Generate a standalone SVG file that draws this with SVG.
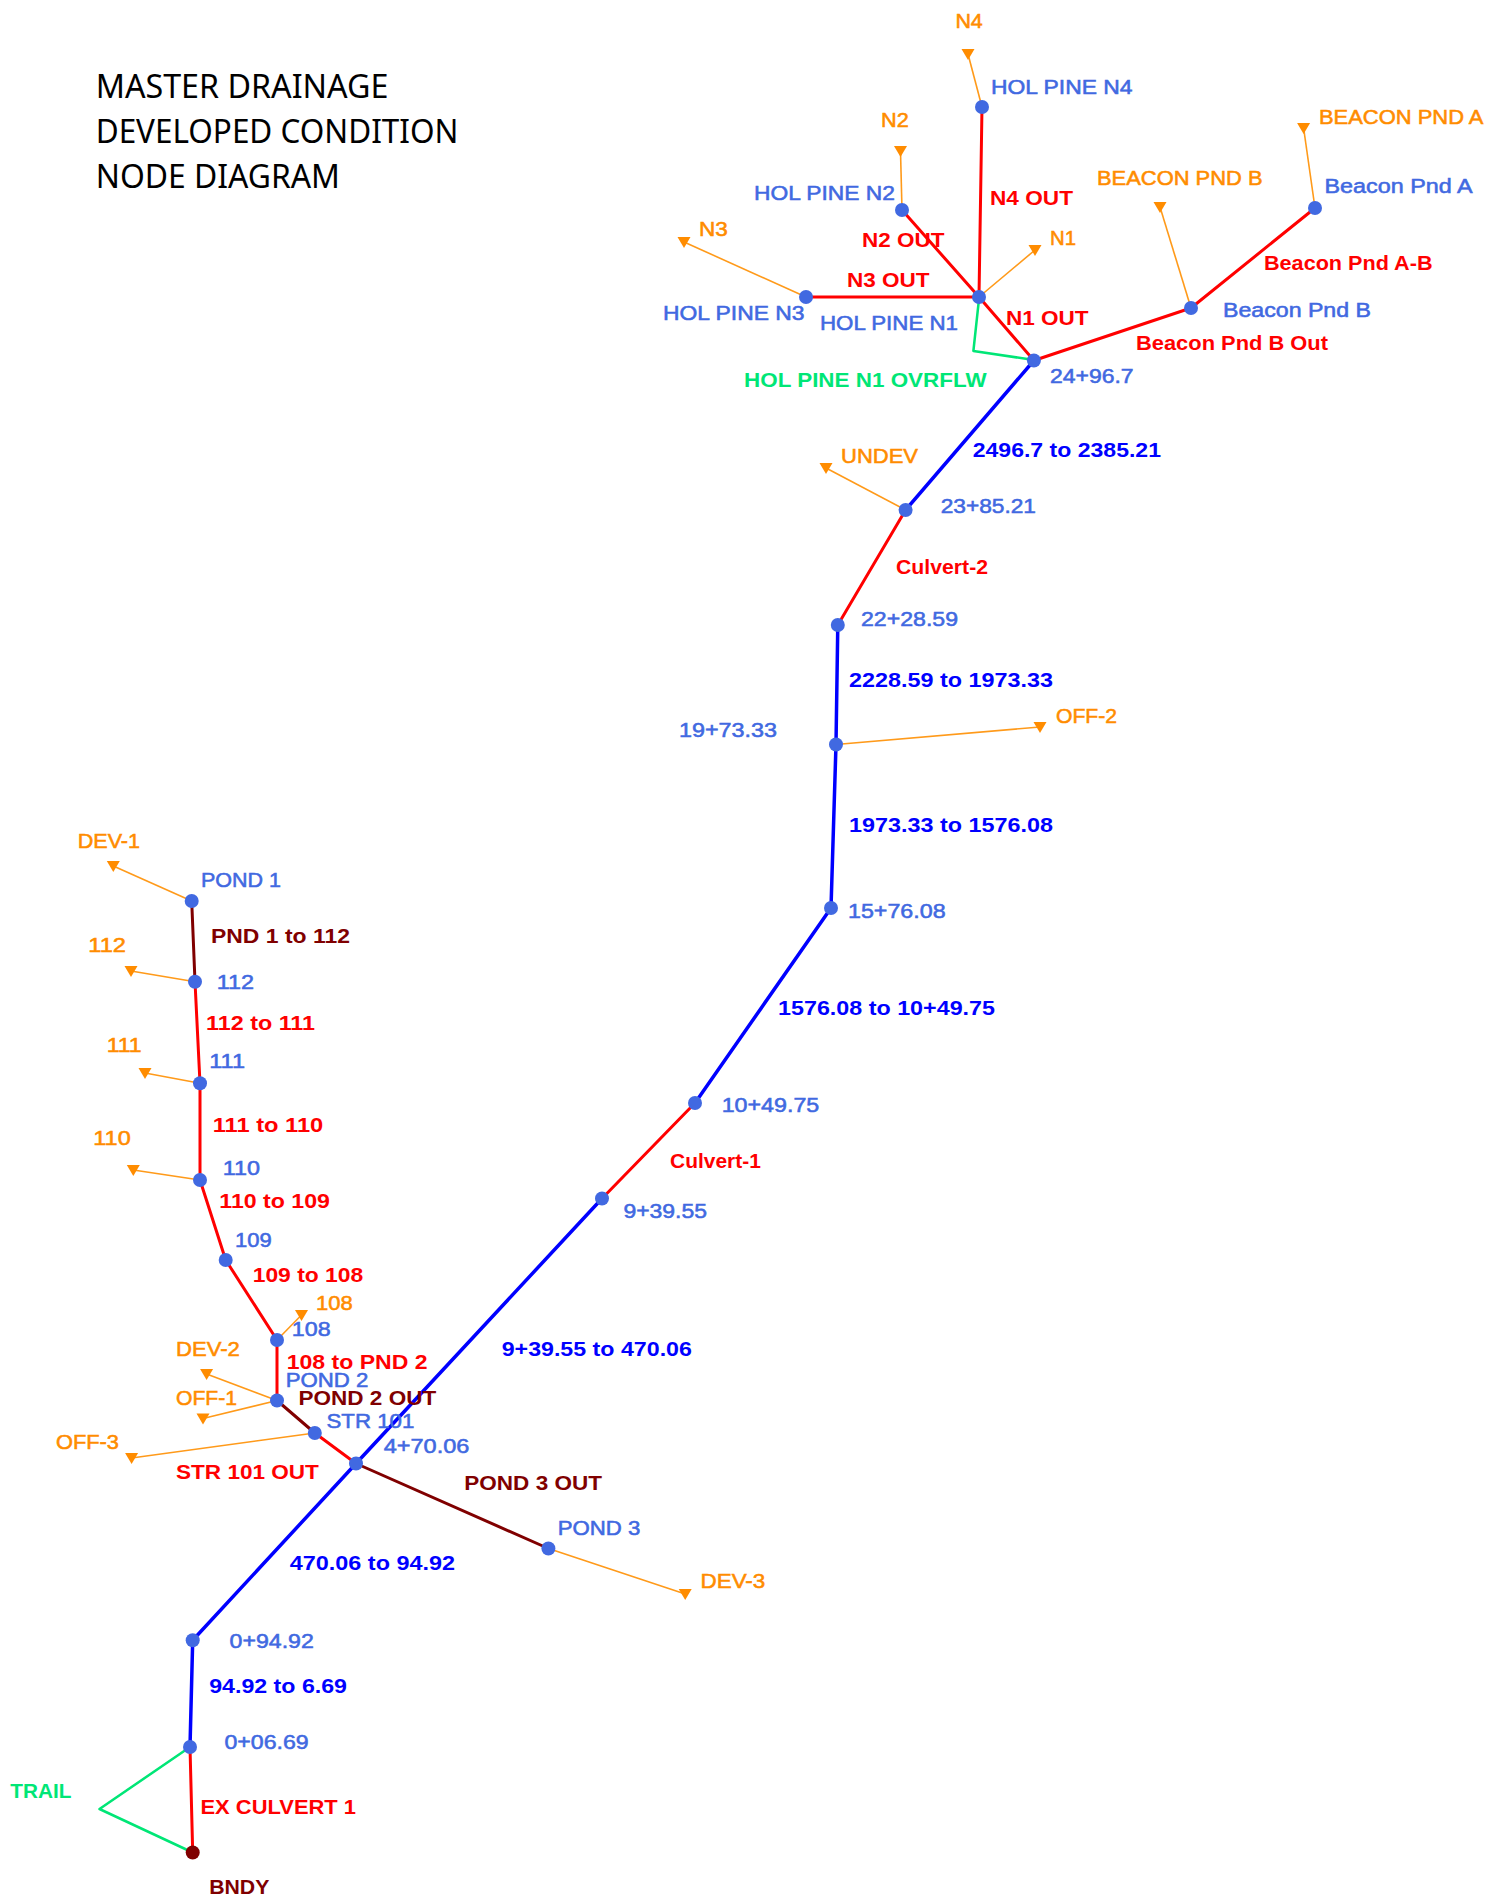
<svg xmlns="http://www.w3.org/2000/svg" width="1500" height="1898" viewBox="0 0 1500 1898">
<style>
text{font-family:"Liberation Sans",Arial,sans-serif;font-size:20.5px}
.title{font-family:"Noto Sans","Liberation Sans",sans-serif;font-size:32.5px;fill:#000}
.nl{fill:#4169E1;stroke:#4169E1;stroke-width:0.55}
.sl{fill:#FF8C00;stroke:#FF8C00;stroke-width:0.55}
.lb{fill:#0000FF;font-weight:bold}
.lr{fill:#FF0000;font-weight:bold}
.ld{fill:#800000;font-weight:bold}
.lg{fill:#00E676;font-weight:bold}
.reach{stroke:#0000FF;stroke-width:3.5;fill:none;stroke-linecap:round}
.red{stroke:#FF0000;stroke-width:3;fill:none;stroke-linecap:round}
.dred{stroke:#800000;stroke-width:3;fill:none;stroke-linecap:round}
.grn{stroke:#00E676;stroke-width:2.5;fill:none;stroke-linejoin:round}
.sub{stroke:#FF9A1A;stroke-width:1.6;fill:none}
.jn{fill:#4169E1}
</style>
<defs>
<path id="tri" d="M-6.5,-5 L6.5,-5 L0,6 Z" fill="#FF8C00"/>
</defs>

<g id="title">
<text class="title" x="95.7" y="98" textLength="292.7" lengthAdjust="spacingAndGlyphs">MASTER DRAINAGE</text>
<text class="title" x="95.7" y="143.3" textLength="362.7" lengthAdjust="spacingAndGlyphs">DEVELOPED CONDITION</text>
<text class="title" x="95.7" y="188.3" textLength="244.3" lengthAdjust="spacingAndGlyphs">NODE DIAGRAM</text>
</g>

<g id="connectors">
<line class="sub" x1="982" y1="107" x2="968" y2="54"/>
<line class="sub" x1="902" y1="210" x2="900.5" y2="151"/>
<line class="sub" x1="806" y1="297" x2="684" y2="242"/>
<line class="sub" x1="979" y1="297" x2="1035" y2="250"/>
<line class="sub" x1="1315" y1="208" x2="1303.6" y2="128"/>
<line class="sub" x1="1191" y1="308" x2="1160" y2="207"/>
<line class="sub" x1="905.6" y1="510" x2="826" y2="468"/>
<line class="sub" x1="836" y1="744.5" x2="1040" y2="727"/>
<line class="sub" x1="191.7" y1="901" x2="113.3" y2="866"/>
<line class="sub" x1="195" y1="981.7" x2="131" y2="971"/>
<line class="sub" x1="200" y1="1083.3" x2="145" y2="1073"/>
<line class="sub" x1="200" y1="1180" x2="133.3" y2="1170"/>
<line class="sub" x1="277" y1="1340" x2="301.5" y2="1315"/>
<line class="sub" x1="277" y1="1400.5" x2="206.6" y2="1374"/>
<line class="sub" x1="277" y1="1400.5" x2="203" y2="1418.5"/>
<line class="sub" x1="314.8" y1="1433" x2="131.6" y2="1458"/>
<line class="sub" x1="548.4" y1="1548.5" x2="685.2" y2="1594"/>
<line class="red" x1="982" y1="107" x2="979" y2="297"/>
<line class="red" x1="902" y1="210" x2="979" y2="297"/>
<line class="red" x1="806" y1="297" x2="979" y2="297"/>
<line class="red" x1="979" y1="297" x2="1033.9" y2="360.5"/>
<line class="red" x1="1315" y1="208" x2="1191" y2="308"/>
<line class="red" x1="1191" y1="308" x2="1033.9" y2="360.5"/>
<polyline class="grn" points="979,299 973.4,351 1033.9,360"/>
<line class="reach" x1="1033.9" y1="360.5" x2="905.6" y2="510"/>
<line class="red" x1="905.6" y1="510" x2="837.8" y2="625"/>
<polyline class="reach" points="837.8,625 836,744.5 831,908"/>
<line class="reach" x1="831" y1="908" x2="695" y2="1103"/>
<line class="red" x1="695" y1="1103" x2="602" y2="1198.5"/>
<line class="reach" x1="602" y1="1198.5" x2="356" y2="1463.5"/>
<line class="reach" x1="356" y1="1463.5" x2="192.7" y2="1640.3"/>
<line class="reach" x1="192.7" y1="1640.3" x2="190" y2="1747"/>
<line class="red" x1="190" y1="1747" x2="192.7" y2="1852.5"/>
<polyline class="grn" points="190,1747 99.5,1809 192.7,1852.5"/>
<line class="dred" x1="191.7" y1="901" x2="195" y2="981.7"/>
<line class="red" x1="195" y1="981.7" x2="200" y2="1083.3"/>
<line class="red" x1="200" y1="1083.3" x2="200" y2="1180"/>
<line class="red" x1="200" y1="1180" x2="225.7" y2="1260"/>
<line class="red" x1="225.7" y1="1260" x2="277" y2="1340"/>
<line class="red" x1="277" y1="1340" x2="277" y2="1400.5"/>
<line class="dred" x1="277" y1="1400.5" x2="314.8" y2="1433"/>
<line class="red" x1="314.8" y1="1433" x2="356" y2="1463.5"/>
<line class="dred" x1="548.4" y1="1548.5" x2="356" y2="1463.5"/>
</g>

<g id="link-labels">
<text class="lr" x="990" y="205" textLength="83" lengthAdjust="spacingAndGlyphs">N4 OUT</text>
<text class="lr" x="862" y="246.7" textLength="82.4" lengthAdjust="spacingAndGlyphs">N2 OUT</text>
<text class="lr" x="847" y="286.7" textLength="82.6" lengthAdjust="spacingAndGlyphs">N3 OUT</text>
<text class="lr" x="1006" y="325" textLength="82.6" lengthAdjust="spacingAndGlyphs">N1 OUT</text>
<text class="lr" x="1264" y="270" textLength="168.5" lengthAdjust="spacingAndGlyphs">Beacon Pnd A-B</text>
<text class="lr" x="1136" y="350" textLength="192" lengthAdjust="spacingAndGlyphs">Beacon Pnd B Out</text>
<text class="lg" x="744" y="386.7" textLength="242.6" lengthAdjust="spacingAndGlyphs">HOL PINE N1 OVRFLW</text>
<text class="lb" x="972.7" y="456.7" textLength="188.3" lengthAdjust="spacingAndGlyphs">2496.7 to 2385.21</text>
<text class="lr" x="896" y="574" textLength="92" lengthAdjust="spacingAndGlyphs">Culvert-2</text>
<text class="lb" x="849" y="687.3" textLength="204" lengthAdjust="spacingAndGlyphs">2228.59 to 1973.33</text>
<text class="lb" x="849" y="832.3" textLength="204" lengthAdjust="spacingAndGlyphs">1973.33 to 1576.08</text>
<text class="lb" x="778" y="1015" textLength="217" lengthAdjust="spacingAndGlyphs">1576.08 to 10+49.75</text>
<text class="lr" x="670" y="1168" textLength="90.8" lengthAdjust="spacingAndGlyphs">Culvert-1</text>
<text class="lb" x="501.7" y="1356" textLength="190.2" lengthAdjust="spacingAndGlyphs">9+39.55 to 470.06</text>
<text class="ld" x="211" y="943.3" textLength="139" lengthAdjust="spacingAndGlyphs">PND 1 to 112</text>
<text class="lr" x="206" y="1030" textLength="109" lengthAdjust="spacingAndGlyphs">112 to 111</text>
<text class="lr" x="212.7" y="1131.7" textLength="110.6" lengthAdjust="spacingAndGlyphs">111 to 110</text>
<text class="lr" x="219.3" y="1208.3" textLength="110.7" lengthAdjust="spacingAndGlyphs">110 to 109</text>
<text class="lr" x="252.7" y="1281.7" textLength="110.6" lengthAdjust="spacingAndGlyphs">109 to 108</text>
<text class="lr" x="286.7" y="1368.6" textLength="140.9" lengthAdjust="spacingAndGlyphs">108 to PND 2</text>
<text class="ld" x="298.5" y="1404.9" textLength="137.7" lengthAdjust="spacingAndGlyphs">POND 2 OUT</text>
<text class="lr" x="176" y="1478.5" textLength="142.9" lengthAdjust="spacingAndGlyphs">STR 101 OUT</text>
<text class="ld" x="464.3" y="1490" textLength="137.7" lengthAdjust="spacingAndGlyphs">POND 3 OUT</text>
<text class="lb" x="289.8" y="1570" textLength="165.2" lengthAdjust="spacingAndGlyphs">470.06 to 94.92</text>
<text class="lb" x="209.2" y="1692.8" textLength="137.8" lengthAdjust="spacingAndGlyphs">94.92 to 6.69</text>
<text class="lr" x="200.5" y="1814" textLength="155.5" lengthAdjust="spacingAndGlyphs">EX CULVERT 1</text>
<text class="lg" x="10.2" y="1797.7" textLength="61.2" lengthAdjust="spacingAndGlyphs">TRAIL</text>
</g>

<g id="sb-N4"><use href="#tri" x="968" y="54"/><text class="sl" x="955.4" y="28.3" textLength="27.4" lengthAdjust="spacingAndGlyphs">N4</text></g>
<g id="sb-N2"><use href="#tri" x="900.5" y="151"/><text class="sl" x="881" y="126.7" textLength="27.7" lengthAdjust="spacingAndGlyphs">N2</text></g>
<g id="sb-N3"><use href="#tri" x="684" y="242"/><text class="sl" x="699" y="236" textLength="28.8" lengthAdjust="spacingAndGlyphs">N3</text></g>
<g id="sb-N1"><use href="#tri" x="1035" y="250"/><text class="sl" x="1050" y="245" textLength="26" lengthAdjust="spacingAndGlyphs">N1</text></g>
<g id="sb-BeaconA"><use href="#tri" x="1303.6" y="128"/><text class="sl" x="1319" y="124" textLength="164.5" lengthAdjust="spacingAndGlyphs">BEACON PND A</text></g>
<g id="sb-BeaconB"><use href="#tri" x="1160" y="207"/><text class="sl" x="1097" y="185" textLength="165.5" lengthAdjust="spacingAndGlyphs">BEACON PND B</text></g>
<g id="sb-UNDEV"><use href="#tri" x="826" y="468"/><text class="sl" x="841" y="462.7" textLength="77" lengthAdjust="spacingAndGlyphs">UNDEV</text></g>
<g id="sb-OFF2"><use href="#tri" x="1040" y="727"/><text class="sl" x="1056" y="722.7" textLength="61" lengthAdjust="spacingAndGlyphs">OFF-2</text></g>
<g id="sb-DEV1"><use href="#tri" x="113.3" y="866"/><text class="sl" x="77.7" y="848.3" textLength="62.3" lengthAdjust="spacingAndGlyphs">DEV-1</text></g>
<g id="sb-112"><use href="#tri" x="131" y="971"/><text class="sl" x="88.3" y="951.7" textLength="37.7" lengthAdjust="spacingAndGlyphs">112</text></g>
<g id="sb-111"><use href="#tri" x="145" y="1073"/><text class="sl" x="106.7" y="1051.7" textLength="35" lengthAdjust="spacingAndGlyphs">111</text></g>
<g id="sb-110"><use href="#tri" x="133.3" y="1170"/><text class="sl" x="93.3" y="1145" textLength="37.4" lengthAdjust="spacingAndGlyphs">110</text></g>
<g id="sb-108"><use href="#tri" x="301.5" y="1315"/><text class="sl" x="316" y="1310" textLength="36.7" lengthAdjust="spacingAndGlyphs">108</text></g>
<g id="sb-DEV2"><use href="#tri" x="206.6" y="1374"/><text class="sl" x="176" y="1356.4" textLength="63.8" lengthAdjust="spacingAndGlyphs">DEV-2</text></g>
<g id="sb-OFF1"><use href="#tri" x="203" y="1418.5"/><text class="sl" x="176" y="1404.9" textLength="61" lengthAdjust="spacingAndGlyphs">OFF-1</text></g>
<g id="sb-OFF3"><use href="#tri" x="131.6" y="1458"/><text class="sl" x="56" y="1448.7" textLength="63" lengthAdjust="spacingAndGlyphs">OFF-3</text></g>
<g id="sb-DEV3"><use href="#tri" x="685.2" y="1594"/><text class="sl" x="700.5" y="1588" textLength="64.8" lengthAdjust="spacingAndGlyphs">DEV-3</text></g>

<g id="n-HOLPINEN4"><circle class="jn" cx="982" cy="107" r="7"/><text class="nl" x="991" y="94" textLength="141.5" lengthAdjust="spacingAndGlyphs">HOL PINE N4</text></g>
<g id="n-HOLPINEN2"><circle class="jn" cx="902" cy="210" r="7"/><text class="nl" x="754" y="200" textLength="141" lengthAdjust="spacingAndGlyphs">HOL PINE N2</text></g>
<g id="n-HOLPINEN3"><circle class="jn" cx="806" cy="297" r="7"/><text class="nl" x="663" y="320" textLength="141.5" lengthAdjust="spacingAndGlyphs">HOL PINE N3</text></g>
<g id="n-HOLPINEN1"><circle class="jn" cx="979" cy="297" r="7"/><text class="nl" x="820" y="330" textLength="138" lengthAdjust="spacingAndGlyphs">HOL PINE N1</text></g>
<g id="n-BeaconA"><circle class="jn" cx="1315" cy="208" r="7"/><text class="nl" x="1324.5" y="193" textLength="148" lengthAdjust="spacingAndGlyphs">Beacon Pnd A</text></g>
<g id="n-BeaconB"><circle class="jn" cx="1191" cy="308" r="7"/><text class="nl" x="1223" y="316.7" textLength="148" lengthAdjust="spacingAndGlyphs">Beacon Pnd B</text></g>
<g id="n-2496"><circle class="jn" cx="1033.9" cy="360.5" r="7"/><text class="nl" x="1050" y="383" textLength="83.6" lengthAdjust="spacingAndGlyphs">24+96.7</text></g>
<g id="n-2385"><circle class="jn" cx="905.6" cy="510" r="7"/><text class="nl" x="940.7" y="513" textLength="95.3" lengthAdjust="spacingAndGlyphs">23+85.21</text></g>
<g id="n-2228"><circle class="jn" cx="837.8" cy="625" r="7"/><text class="nl" x="861" y="626" textLength="97" lengthAdjust="spacingAndGlyphs">22+28.59</text></g>
<g id="n-1973"><circle class="jn" cx="836" cy="744.5" r="7"/><text class="nl" x="679" y="737" textLength="98" lengthAdjust="spacingAndGlyphs">19+73.33</text></g>
<g id="n-1576"><circle class="jn" cx="831" cy="908" r="7"/><text class="nl" x="848" y="918" textLength="97.6" lengthAdjust="spacingAndGlyphs">15+76.08</text></g>
<g id="n-1049"><circle class="jn" cx="695" cy="1103" r="7"/><text class="nl" x="721.7" y="1111.7" textLength="97.6" lengthAdjust="spacingAndGlyphs">10+49.75</text></g>
<g id="n-939"><circle class="jn" cx="602" cy="1198.5" r="7"/><text class="nl" x="623.4" y="1218" textLength="83.6" lengthAdjust="spacingAndGlyphs">9+39.55</text></g>
<g id="n-POND1"><circle class="jn" cx="191.7" cy="901" r="7"/><text class="nl" x="201" y="886.7" textLength="80" lengthAdjust="spacingAndGlyphs">POND 1</text></g>
<g id="n-112"><circle class="jn" cx="195" cy="981.7" r="7"/><text class="nl" x="216.7" y="989" textLength="37.3" lengthAdjust="spacingAndGlyphs">112</text></g>
<g id="n-111"><circle class="jn" cx="200" cy="1083.3" r="7"/><text class="nl" x="209.3" y="1068.3" textLength="35.7" lengthAdjust="spacingAndGlyphs">111</text></g>
<g id="n-110"><circle class="jn" cx="200" cy="1180" r="7"/><text class="nl" x="222.7" y="1175" textLength="37.3" lengthAdjust="spacingAndGlyphs">110</text></g>
<g id="n-109"><circle class="jn" cx="225.7" cy="1260" r="7"/><text class="nl" x="235" y="1246.7" textLength="36.7" lengthAdjust="spacingAndGlyphs">109</text></g>
<g id="n-108"><circle class="jn" cx="277" cy="1340" r="7"/><text class="nl" x="291.8" y="1336.2" textLength="38.8" lengthAdjust="spacingAndGlyphs">108</text></g>
<g id="n-POND2"><circle class="jn" cx="277" cy="1400.5" r="7"/><text class="nl" x="285.7" y="1387" textLength="82.7" lengthAdjust="spacingAndGlyphs">POND 2</text></g>
<g id="n-STR101"><circle class="jn" cx="314.8" cy="1433" r="7"/><text class="nl" x="326.5" y="1427.8" textLength="87.8" lengthAdjust="spacingAndGlyphs">STR 101</text></g>
<g id="n-470"><circle class="jn" cx="356" cy="1463.5" r="7"/><text class="nl" x="383.7" y="1453.3" textLength="85.7" lengthAdjust="spacingAndGlyphs">4+70.06</text></g>
<g id="n-POND3"><circle class="jn" cx="548.4" cy="1548.5" r="7"/><text class="nl" x="557.7" y="1534.6" textLength="82.6" lengthAdjust="spacingAndGlyphs">POND 3</text></g>
<g id="n-094"><circle class="jn" cx="192.7" cy="1640.3" r="7"/><text class="nl" x="229.6" y="1647.8" textLength="84.2" lengthAdjust="spacingAndGlyphs">0+94.92</text></g>
<g id="n-006"><circle class="jn" cx="190" cy="1747" r="7"/><text class="nl" x="224.5" y="1749.3" textLength="84.2" lengthAdjust="spacingAndGlyphs">0+06.69</text></g>
<g id="n-BNDY"><circle cx="192.7" cy="1852.5" r="7" fill="#800000"/><text class="ld" x="209.2" y="1894.2" textLength="60.2" lengthAdjust="spacingAndGlyphs">BNDY</text></g>
</svg>
